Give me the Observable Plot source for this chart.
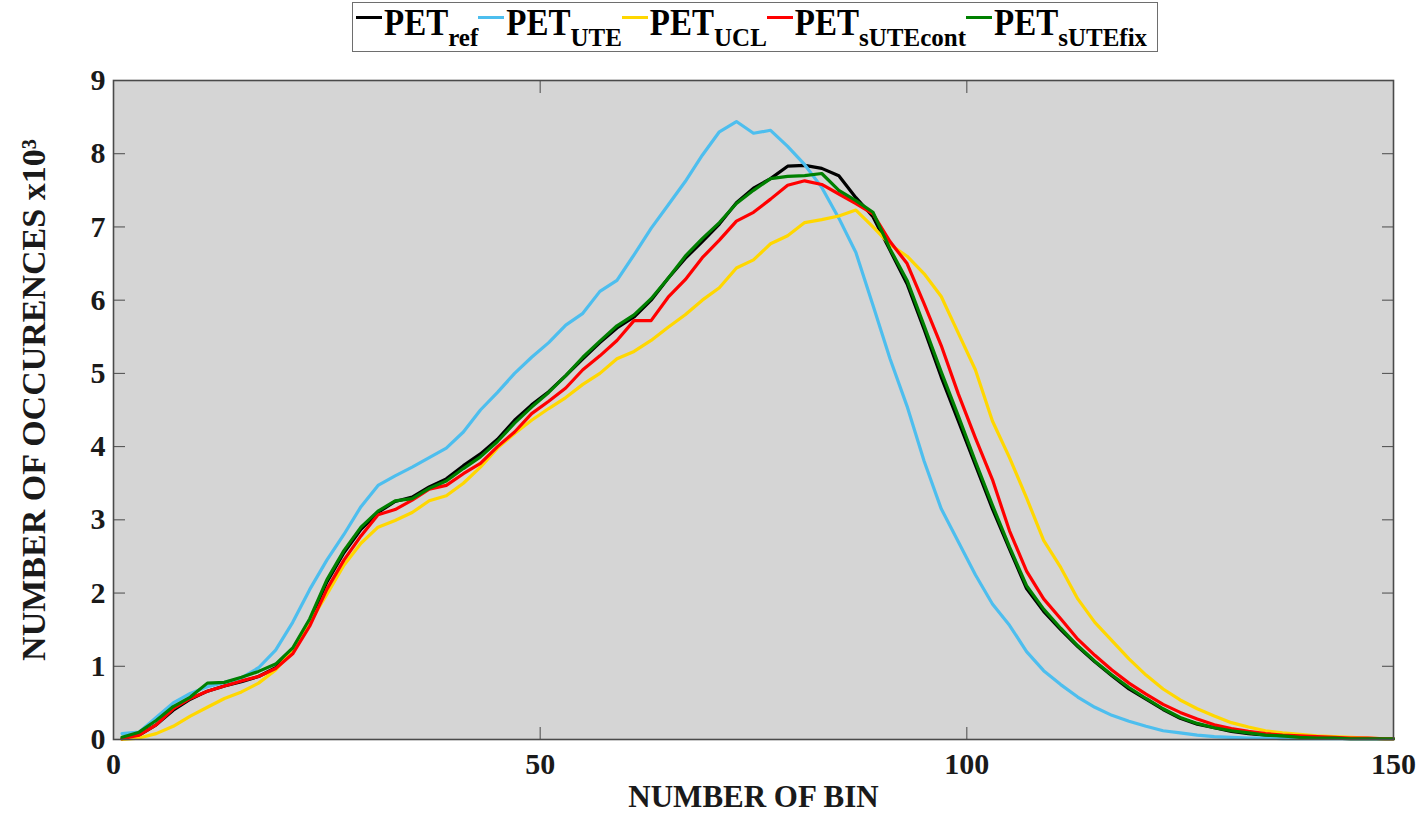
<!DOCTYPE html>
<html>
<head>
<meta charset="utf-8">
<script src="https://cdn.jsdelivr.net/npm/d3@7"></script>
<script src="https://cdn.jsdelivr.net/npm/@observablehq/plot@0.6"></script>
<style>
  body { margin: 0; background: #fff; font-family: "Liberation Serif", "Times New Roman", serif; }
  #wrap { width: 1418px; height: 814px; position: relative; overflow: hidden; }
  #legend { margin-top: 2px; margin-bottom: 3px; margin-left: 352px; width: 806px; height: 50px; box-sizing: border-box;
            border: 1.5px solid #6e6e6e; background: #fff; padding-left: 3px; white-space: nowrap;
            font-weight: bold; color: #000; line-height: 1; }
  #legend .item { display: inline-block; position: relative; height: 46px; }
  #legend .sw { display: inline-block; width: 26px; height: 3.5px; position: relative; top: -11px; margin-right: 2px; }
  #legend .main { font-size: 33px; position: relative; top: 4px; display: inline-block; transform: scaleY(1.12); }
  #legend .sub { font-size: 25px; position: relative; top: 16px; }
  #chart { height: 759px; }
</style>
</head>
<body>
<div id="wrap">
  <div id="legend"></div>
  <div id="chart"></div>
</div>
<script>
// Bin numbers (x)
const bins = [1,3,5,7,9,11,13,15,17,19,21,23,25,27,29,31,33,35,37,39,41,43,45,47,49,51,53,55,57,59,61,63,65,67,69,71,73,75,77,79,81,83,85,87,89,91,93,95,97,99,101,103,105,107,109,111,113,115,117,119,121,123,125,127,129,131,133,135,137,139,141,143,145,147,149,150];

// Number of occurences x10^3 per series
const petRef = [0.01,0.06,0.2,0.4,0.55,0.66,0.73,0.79,0.86,0.98,1.2,1.62,2.15,2.55,2.87,3.1,3.25,3.31,3.45,3.56,3.74,3.9,4.1,4.36,4.57,4.75,4.97,5.2,5.42,5.62,5.77,6.0,6.3,6.57,6.8,7.04,7.33,7.53,7.66,7.83,7.84,7.8,7.7,7.4,7.14,6.68,6.22,5.6,4.95,4.35,3.75,3.15,2.6,2.06,1.75,1.5,1.27,1.06,0.87,0.69,0.55,0.41,0.29,0.21,0.16,0.11,0.08,0.06,0.04,0.03,0.02,0.02,0.01,0.01,0.01,0.01];
const petUTE = [0.08,0.1,0.3,0.5,0.63,0.72,0.78,0.84,0.98,1.22,1.6,2.05,2.45,2.8,3.18,3.47,3.6,3.72,3.85,3.98,4.2,4.5,4.74,5.0,5.22,5.42,5.66,5.82,6.12,6.27,6.62,6.98,7.3,7.62,7.98,8.3,8.44,8.28,8.32,8.1,7.85,7.54,7.12,6.65,5.93,5.2,4.55,3.8,3.15,2.7,2.25,1.85,1.56,1.2,0.94,0.75,0.58,0.44,0.33,0.25,0.18,0.12,0.09,0.06,0.04,0.03,0.02,0.02,0.01,0.01,0.01,0.01,0.01,0.01,0.01,0.01];
const petUCL = [0.0,0.02,0.08,0.18,0.32,0.44,0.56,0.65,0.77,0.95,1.22,1.6,1.98,2.38,2.68,2.9,2.99,3.1,3.26,3.33,3.5,3.72,3.98,4.18,4.36,4.52,4.67,4.85,5.0,5.2,5.3,5.45,5.63,5.8,6.0,6.17,6.44,6.55,6.77,6.88,7.06,7.1,7.15,7.23,7.0,6.76,6.6,6.36,6.05,5.55,5.05,4.35,3.85,3.3,2.72,2.35,1.92,1.6,1.35,1.1,0.88,0.69,0.54,0.42,0.32,0.23,0.17,0.12,0.09,0.07,0.05,0.04,0.03,0.02,0.01,0.01];
const petSUTEcont = [0.01,0.06,0.2,0.42,0.56,0.66,0.73,0.8,0.86,0.97,1.17,1.55,2.05,2.45,2.78,3.07,3.14,3.27,3.42,3.47,3.63,3.77,4.0,4.2,4.45,4.62,4.8,5.05,5.24,5.45,5.72,5.72,6.04,6.28,6.58,6.82,7.08,7.2,7.38,7.57,7.63,7.58,7.45,7.32,7.18,6.8,6.5,5.95,5.38,4.72,4.12,3.55,2.85,2.3,1.92,1.65,1.37,1.15,0.95,0.77,0.62,0.48,0.37,0.28,0.2,0.15,0.11,0.08,0.06,0.05,0.04,0.03,0.02,0.02,0.01,0.01];
const petSUTEfix = [0.03,0.1,0.26,0.45,0.58,0.77,0.78,0.85,0.93,1.03,1.25,1.65,2.18,2.58,2.9,3.12,3.26,3.29,3.43,3.53,3.7,3.86,4.07,4.32,4.54,4.74,4.97,5.22,5.44,5.65,5.8,6.02,6.3,6.6,6.84,7.06,7.32,7.5,7.66,7.69,7.7,7.73,7.5,7.36,7.2,6.7,6.27,5.65,5.02,4.42,3.8,3.2,2.63,2.1,1.78,1.52,1.28,1.07,0.88,0.71,0.56,0.42,0.3,0.22,0.16,0.12,0.09,0.06,0.05,0.03,0.02,0.02,0.01,0.01,0.01,0.01];

const seriesNames = ["ref", "UTE", "UCL", "sUTEcont", "sUTEfix"];
const seriesValues = [petRef, petUTE, petUCL, petSUTEcont, petSUTEfix];
const seriesColors = ["#000000", "#4DBEEE", "#FFD700", "#FF0000", "#008000"];

const xTicks = [0, 50, 100, 150];
const yTicks = [0, 1, 2, 3, 4, 5, 6, 7, 8, 9];

// Legend
const legend = document.getElementById("legend");
seriesNames.forEach((name, i) => {
  const item = document.createElement("span");
  item.className = "item";
  item.innerHTML = `<span class="sw" style="background:${seriesColors[i]}"></span><span class="main">PET</span><span class="sub">${name}</span>`;
  legend.appendChild(item);
});

const lineMarks = seriesValues.map((vals, i) =>
  Plot.line(bins.map((b, j) => ({bin: b, value: vals[j]})), {
    x: "bin", y: "value", stroke: seriesColors[i], strokeWidth: 3.2, strokeLinejoin: "round"
  })
);

const fontCommon = {fontFamily: "Liberation Serif", fontWeight: "bold"};

const chart = Plot.plot({
  width: 1418,
  height: 759,
  marginTop: 25,
  marginBottom: 75,
  marginLeft: 113,
  marginRight: 25,
  x: {domain: [0, 150]},
  y: {domain: [0, 9]},
  style: {fontFamily: "Liberation Serif", fontWeight: "bold", color: "#1a1a1a", background: "#fff"},
  marks: [
    Plot.frame({fill: "#d5d5d5"}),
    ...lineMarks,
    Plot.frame({stroke: "#4a4a4a", strokeWidth: 1.6}),
    Plot.axisX({anchor: "bottom", ticks: xTicks, tickSize: -12, tickPadding: 25, label: null, fontSize: 30, stroke: "#4a4a4a"}),
    Plot.axisX({anchor: "top", ticks: xTicks, tickSize: -12, tickFormat: () => "", label: null, stroke: "#4a4a4a"}),
    Plot.axisY({anchor: "left", ticks: yTicks, tickSize: -12, tickPadding: 20, label: null, fontSize: 30, stroke: "#4a4a4a"}),
    Plot.axisY({anchor: "right", ticks: yTicks, tickSize: -12, tickFormat: () => "", label: null, stroke: "#4a4a4a"}),
    Plot.text(["NUMBER OF BIN"], {frameAnchor: "bottom", dy: 58, fontSize: 31, textAnchor: "middle", lineAnchor: "middle", fill: "#1a1a1a", ...fontCommon}),
    Plot.text(["NUMBER OF OCCURENCES x10³"], {frameAnchor: "left", dx: -79, dy: -10, rotate: -90, fontSize: 34, textAnchor: "middle", lineAnchor: "middle", fill: "#1a1a1a", ...fontCommon})
  ]
});
document.getElementById("chart").appendChild(chart);
</script>
</body>
</html>
